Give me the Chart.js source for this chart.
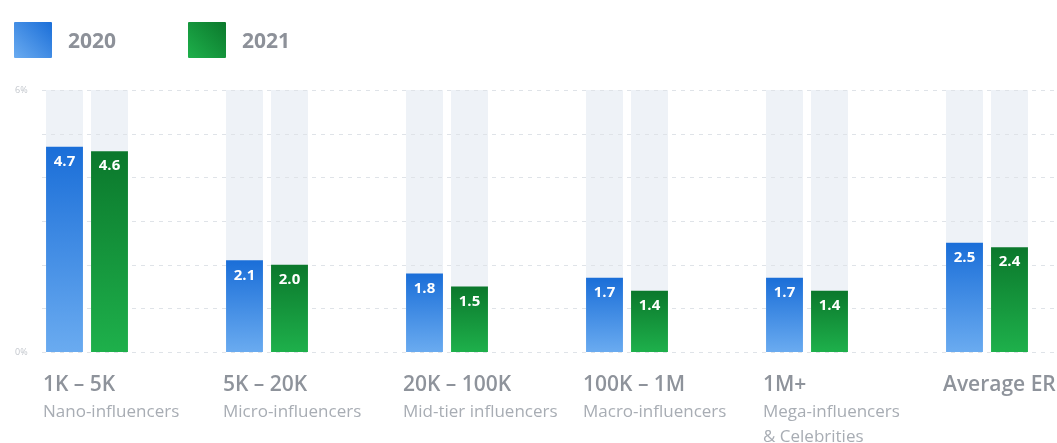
<!DOCTYPE html>
<html>
<head>
<meta charset="utf-8">
<script src="https://cdn.jsdelivr.net/npm/chart.js@4"></script>
<style>
  html, body { margin: 0; padding: 0; background: #ffffff; overflow: hidden; }
  #wrap { position: relative; width: 1080px; height: 443px; margin-left: -3px; }
  #legend { position: absolute; left: 17px; top: 22px; display: flex; font-family: 'Open Sans', 'DejaVu Sans', sans-serif; }
  .legend-item { display: flex; align-items: center; margin-right: 0; }
  .legend-box { width: 38px; height: 36px; border-radius: 1px; }
  .legend-text { font-size: 21px; font-weight: 700; color: #8d9199; margin-left: 16px; }
</style>
</head>
<body>
<div id="wrap">
  <canvas id="chartER"></canvas>
  <div id="legend"></div>
</div>
<script>
// ---- data ----
const categories = ["1K – 5K", "5K – 20K", "20K – 100K", "100K – 1M", "1M+", "Average ER"];
const subLabels = [
  ["Nano-influencers"],
  ["Micro-influencers"],
  ["Mid-tier influencers"],
  ["Macro-influencers"],
  ["Mega-influencers", "& Celebrities"],
  [""],
];
const er2020 = [4.7, 2.1, 1.8, 1.7, 1.7, 2.5];
const er2021 = [4.6, 2.0, 1.5, 1.4, 1.4, 2.4];
const trackValues = [6, 6, 6, 6, 6, 6];
const yTickLabels = { 0: "0%", 6: "6%" };
const seriesNames = ["2020", "2021"];

const FONT = "'Open Sans', 'DejaVu Sans', sans-serif";

const SERIES_COLORS = [
  { top: "#1a6ed8", bottom: "#6aabf0", legend: "linear-gradient(45deg, #6aabf0, #1a6ed8)" },
  { top: "#0b782c", bottom: "#1eb04b", legend: "linear-gradient(45deg, #1eb04b, #0b782c)" },
];


function barGradient(ctx, top, bottom) {
  const chart = ctx.chart;
  const area = chart.chartArea;
  if (!area || ctx.type !== "data") return top;
  const y = chart.scales.y;
  const yTop = y.getPixelForValue(ctx.parsed ? ctx.parsed.y : 0);
  const yBottom = y.getPixelForValue(0);
  const g = chart.ctx.createLinearGradient(0, yTop, 0, yBottom);
  g.addColorStop(0, top);
  g.addColorStop(1, bottom);
  return g;
}


function buildLegend() {
  const legend = document.getElementById("legend");
  const gaps = [0, 72];

  seriesNames.forEach((name, i) => {
    const item = document.createElement("div");
    item.className = "legend-item";
    item.style.marginLeft = gaps[i] + "px";
    item.innerHTML =
      '<span class="legend-box" style="background:' + SERIES_COLORS[i].legend + '"></span>' +
      '<span class="legend-text">' + name + "</span>";
    legend.appendChild(item);
  });
}


function noSidePadding(scale, height) {
  scale.height = height;
  scale.paddingLeft = 0;
  scale.paddingRight = 0;
}


// dashed grid drawn over the tracks but under the bars
let gridDone = false;
const dashedGrid = {
  id: "dashedGrid",
  beforeDraw() {
    gridDone = false;
  },
  beforeDatasetDraw(chart, args) {
    if (gridDone) return;
    if (chart.data.datasets[args.index].isTrack) return;
    gridDone = true;
    const y = chart.scales.y;
    const c = chart.ctx;
    c.save();
    c.strokeStyle = "#dfe3e8";
    c.lineWidth = 1;
    c.setLineDash([4, 5]);
    for (let v = 0; v <= 6; v++) {
      const py = Math.round(y.getPixelForValue(v)) + 0.5;
      c.beginPath();
      c.moveTo(45, py);
      c.lineTo(chart.chartArea.right, py);
      c.stroke();
    }
    c.restore();
  },
};

const barValues = {
  id: "barValues",
  afterDatasetsDraw(chart) {
    const c = chart.ctx;
    c.save();
    c.font = "bold 15px " + FONT;
    c.fillStyle = "#ffffff";
    c.textAlign = "center";
    c.textBaseline = "middle";
    chart.data.datasets.forEach((ds, i) => {
      if (ds.isTrack) return;
      const meta = chart.getDatasetMeta(i);
      meta.data.forEach((bar, j) => {
        c.fillText(ds.data[j].toFixed(1), bar.x, bar.y + 15);
      });
    });
    c.restore();
  },
};

buildLegend();

new Chart(document.getElementById("chartER"), {
  type: "bar",
  data: {
    labels: categories,
    datasets: [
      {
        label: seriesNames[0],
        data: er2020,
        stack: "s2020",
        order: 1,
        backgroundColor: (ctx) => barGradient(ctx, SERIES_COLORS[0].top, SERIES_COLORS[0].bottom),
        borderWidth: 0,
      },
      {
        label: seriesNames[1],
        data: er2021,
        stack: "s2021",
        order: 1,
        backgroundColor: (ctx) => barGradient(ctx, SERIES_COLORS[1].top, SERIES_COLORS[1].bottom),
        borderWidth: 0,
      },
      {
        label: "track2020",
        data: trackValues,
        stack: "s2020",
        order: 2,
        isTrack: true,
        backgroundColor: "#eef2f7",
        borderWidth: 0,
      },
      {
        label: "track2021",
        data: trackValues,
        stack: "s2021",
        order: 2,
        isTrack: true,
        backgroundColor: "#eef2f7",
        borderWidth: 0,
      },
    ],
  },
  options: {
    responsive: true,
    maintainAspectRatio: false,
    animation: false,
    categoryPercentage: 0.5,
    barPercentage: 0.82,
    layout: { padding: { left: 0, right: 0, top: 90, bottom: 0 } },
    plugins: {
      tooltip: { enabled: false },
      legend: { display: false },
    },
    scales: {
      x: {
        position: "bottom",
        weight: 0,
        offset: true,
        grid: { display: false, drawTicks: false },
        border: { display: false },
        ticks: {
          align: "start",
          labelOffset: -44,
          padding: 20,
          color: "#8e939b",
          font: { family: FONT, size: 21, weight: "600" },
          maxRotation: 0,
          autoSkip: false,
        },
        afterFit: (s) => noSidePadding(s, 45),
      },
      x2: {
        position: "bottom",
        weight: 1,
        offset: true,
        labels: subLabels,
        grid: { display: false, drawTicks: false },
        border: { display: false },
        ticks: {
          align: "start",
          labelOffset: -44,
          padding: 2,
          color: "#a8adb4",
          font: { family: FONT, size: 17, lineHeight: 1.5 },
          maxRotation: 0,
          autoSkip: false,
        },
        afterFit: (s) => noSidePadding(s, 46),
      },
      y: {
        min: 0,
        max: 6,
        stacked: false,
        grid: { display: false, drawTicks: false },
        border: { display: false },
        afterFit: (s) => { s.width = 0; },
        ticks: {
          mirror: true,
          stepSize: 1,
          padding: 18,
          color: "#c3c7cd",
          font: { family: FONT, size: 9 },
          callback: (v) => (yTickLabels[v] !== undefined ? yTickLabels[v] : ""),
        },
      },
    },
  },
  plugins: [dashedGrid, barValues],
});
</script>
</body>
</html>
